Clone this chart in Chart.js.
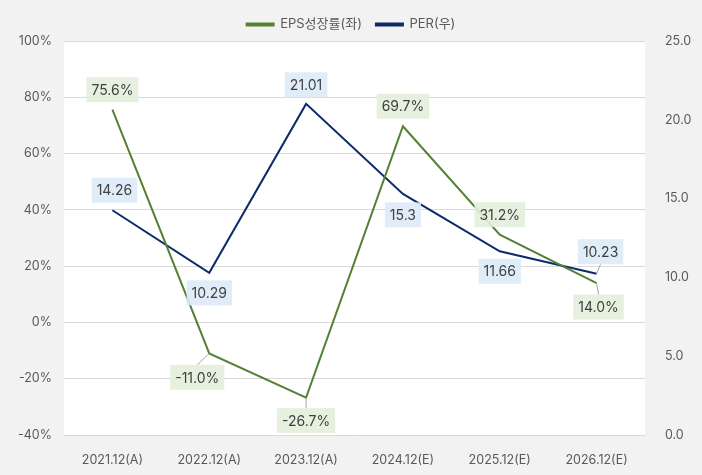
<!DOCTYPE html>
<html>
<head>
<meta charset="utf-8">
<script src="https://cdn.jsdelivr.net/npm/chart.js@4"></script>
<style>
  html, body { margin: 0; padding: 0; background: #f2f2f2; }
  #wrap { width: 702px; height: 475px; }
</style>
</head>
<body>
<div id="wrap"><canvas id="chart" width="702" height="475"></canvas></div>
<script>
// data
const labels = ["2021.12(A)", "2022.12(A)", "2023.12(A)", "2024.12(E)", "2025.12(E)", "2026.12(E)"];
const epsGrowth = [75.6, -11.0, -26.7, 69.7, 31.2, 14.0];
const per = [14.26, 10.29, 21.01, 15.3, 11.66, 10.23];
const leftTicks = [-40, -20, 0, 20, 40, 60, 80, 100];
const rightTicks = [0, 5, 10, 15, 20, 25];

const FONT = "Inter, 'Noto Sans CJK KR', sans-serif";

// label placement per point: [dx, dy, leader line]
const epsLabelPos = [[0, -20, false], [-12, 24, true], [0, 23, true], [0, -20, false], [0, -20, false], [2, 24, true]];
const perLabelPos = [[2, -20, false], [0, 20, false], [0, -19, false], [0, 21, false], [0, 20, false], [4, -22, true]];

const labelStyles = [
  { pos: epsLabelPos, bg: "rgba(226,239,218,0.9)", fmt: (v) => v.toFixed(1) + "%" },
  { pos: perLabelPos, bg: "rgba(221,235,247,0.9)", fmt: (v) => String(v) },
];

// white plot area on grey page
const plotBg = {
  id: "plotBg",
  beforeDraw(chart) {
    const { ctx, chartArea: a } = chart;
    ctx.save();
    ctx.fillStyle = "#f2f2f2";
    ctx.fillRect(0, 0, chart.width, chart.height);
    ctx.fillStyle = "#ffffff";
    ctx.fillRect(a.left, a.top, a.right - a.left, a.bottom - a.top);
    ctx.restore();
  },
};

// boxed value labels
const boxLabels = {
  id: "boxLabels",
  afterDatasetsDraw(chart) {
    const ctx = chart.ctx;
    ctx.save();
    ctx.font = "14px " + FONT;
    ctx.textAlign = "center";
    ctx.textBaseline = "middle";
    chart.data.datasets.forEach((ds, i) => {
      const st = labelStyles[i];
      chart.getDatasetMeta(i).data.forEach((pt, j) => {
        const text = st.fmt(ds.data[j]);
        const [dx, dy, leader] = st.pos[j];
        const cx = pt.x + dx, cy = pt.y + dy;
        const w = ctx.measureText(text).width + 10, h = 25;
        if (leader) {
          const ey = dy > 0 ? cy - h / 2 : cy + h / 2;
          ctx.strokeStyle = "#a6a6a6";
          ctx.lineWidth = 1;
          ctx.beginPath();
          ctx.moveTo(pt.x, pt.y);
          ctx.lineTo(cx, ey);
          ctx.stroke();
        }
        ctx.fillStyle = st.bg;
        ctx.fillRect(cx - w / 2, cy - h / 2, w, h);
        ctx.fillStyle = "#404040";
        ctx.fillText(text, cx, cy + 1);
      });
    });
    ctx.restore();
  },
};

new Chart(document.getElementById("chart"), {
  type: "line",
  data: {
    labels,
    datasets: [
      {
        label: "EPS성장률(좌)",
        data: epsGrowth,
        borderColor: "#548235",
        backgroundColor: "#548235",
        borderWidth: 2,
        pointRadius: 0,
        yAxisID: "y",
      },
      {
        label: "PER(우)",
        data: per,
        borderColor: "#0d2a6b",
        backgroundColor: "#0d2a6b",
        borderWidth: 2,
        pointRadius: 0,
        yAxisID: "y1",
      },
    ],
  },
  options: {
    responsive: false,
    animation: false,
    layout: { padding: { top: 4 } },
    plugins: {
      legend: {
        position: "top",
        labels: {
          boxWidth: 27,
          boxHeight: 2,
          padding: 14,
          color: "#595959",
          font: { family: FONT, size: 13 },
        },
      },
      tooltip: { enabled: false },
    },
    scales: {
      x: {
        offset: true,
        grid: { display: false },
        border: { display: false },
        ticks: { color: "#595959", font: { family: FONT, size: 12.5 }, padding: 10 },
        afterFit: (s) => { s.height = 40; },
      },
      y: {
        position: "left",
        min: -40,
        max: 100,
        afterBuildTicks: (s) => { s.ticks = leftTicks.map((v) => ({ value: v })); },
        grid: { color: "#d9d9d9", drawTicks: false },
        border: { display: false },
        ticks: { color: "#595959", font: { family: FONT, size: 12.5 }, padding: 12, callback: (v) => v + "%" },
        afterFit: (s) => { s.width = 64; },
      },
      y1: {
        position: "right",
        min: 0,
        max: 25,
        afterBuildTicks: (s) => { s.ticks = rightTicks.map((v) => ({ value: v })); },
        grid: { display: false },
        border: { display: false },
        ticks: { color: "#595959", font: { family: FONT, size: 12.5 }, padding: 12, callback: (v) => v.toFixed(1) },
        afterFit: (s) => { s.width = 57; },
      },
    },
  },
  plugins: [plotBg, boxLabels],
});
</script>
</body>
</html>
